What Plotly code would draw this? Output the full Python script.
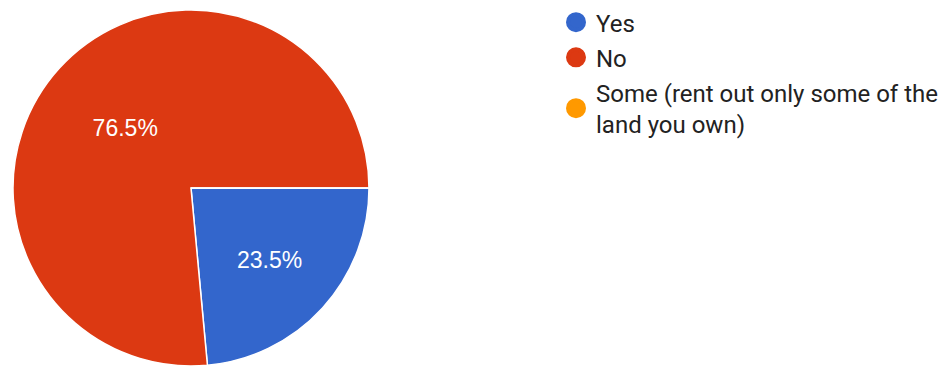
import plotly.graph_objects as go

# Survey answers and response counts
labels = ["Yes", "No", "Some (rent out only some of the land you own)"]
legend_names = ["Yes", "No", "Some (rent out only some of the<br>land you own)"]
counts = [4, 13, 0]
colors = ["#3366cc", "#dc3912", "#ff9900"]

fig = go.Figure()

fig.add_trace(go.Pie(
    labels=labels,
    values=counts,
    sort=False,
    direction="clockwise",
    rotation=90,
    marker=dict(colors=colors, line=dict(color="white", width=1.5)),
    texttemplate="%{percent:.1%}",
    textposition="inside",
    insidetextorientation="horizontal",
    textfont=dict(family="Liberation Sans, Arial", size=23, color="white"),
    showlegend=False,
    hoverinfo="label+percent",
    domain=dict(x=[11 / 943, 371 / 943], y=[0, 1]),
))

# Circle swatches for the legend
for i, (name, col) in enumerate(zip(legend_names, colors)):
    fig.add_trace(go.Scatter(
        x=[None], y=[None], mode="markers", name=name,
        legendgroup=f"g{i}",
        marker=dict(symbol="circle", size=20, color=col,
                    line=dict(color=col, width=4)),
    ))

fig.update_layout(
    width=943, height=366,
    margin=dict(l=0, r=0, t=8, b=0),
    paper_bgcolor="white", plot_bgcolor="white",
    xaxis=dict(visible=False), yaxis=dict(visible=False),
    legend=dict(
        x=556 / 943, y=1.028, xanchor="left", yanchor="top",
        font=dict(family="Roboto", size=24, color="#222222"),
        traceorder="grouped", tracegroupgap=1,
        bgcolor="rgba(0,0,0,0)",
    ),
)

fig.write_html("out.html")
